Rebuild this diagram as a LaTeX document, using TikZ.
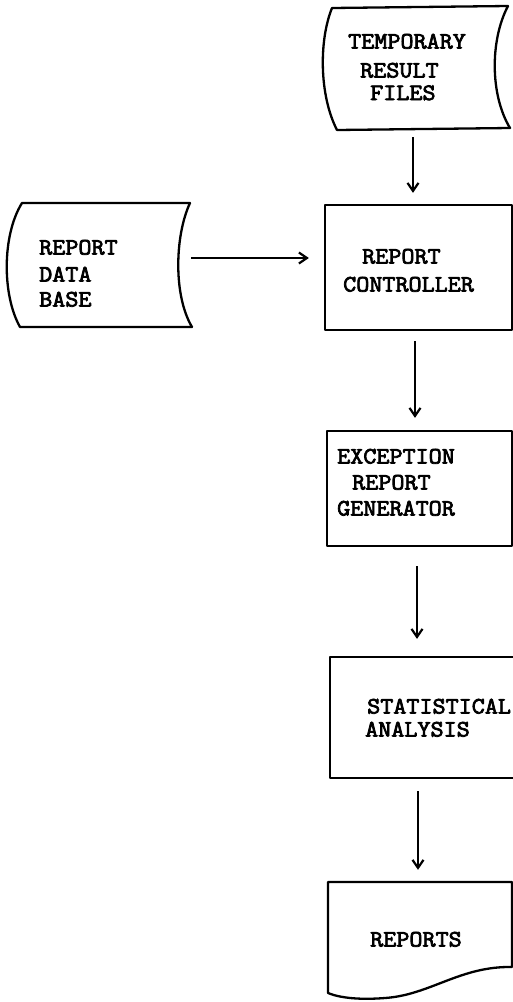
\documentclass[tikz,border=0pt]{standalone}
\usepackage{fontspec}
\usetikzlibrary{arrows.meta}
\newfontfamily\twfont{Latin Modern Mono}[FakeBold=3.2, FakeStretch=1.08]
\begin{document}
\begin{tikzpicture}[x=1pt,y=-1pt,
  outline/.style={line width=2.3pt, line join=round},
  frame/.style={outline, draw, rectangle, inner sep=0pt},
  hold/.style={rectangle, inner sep=0pt},
  flow/.style={line width=2pt, -{Straight Barb[length=8pt,width=11pt,line width=2.2pt]}},
  lbl/.style={anchor=base west, inner sep=0pt, font=\twfont\fontsize{23.5}{26}\selectfont}]
\useasboundingbox[fill=white] (0,0) rectangle (513,1002);

% temporary result files (stored data symbol)
\node[hold, minimum width=176pt, minimum height=122pt] (tmp) at (420,68) {};
\draw[outline] (332,8) -- (508,6)
  .. controls (490,40) and (490,95) .. (510,128)
  -- (337,130)
  .. controls (319,95) and (319,40) .. (332,8) -- cycle;
\node[lbl] (tmp1) at (348,48.5) {TEMPORARY};
\node[lbl] (tmp2) at (360,77.5) {RESULT};
\node[lbl] (tmp3) at (370,100) {FILES};

% report data base (stored data symbol)
\node[hold, minimum width=172pt, minimum height=124pt] (db) at (106,265) {};
\draw[outline] (22,203) -- (190,203)
  .. controls (175,235) and (173,295) .. (192,327)
  -- (20,327)
  .. controls (2,295) and (2,235) .. (22,203) -- cycle;
\node[lbl] (db1) at (39,254.5) {REPORT};
\node[lbl] (db2) at (39,281.5) {DATA};
\node[lbl] (db3) at (39,306.5) {BASE};

% report controller
\node[frame, minimum width=187pt, minimum height=125pt] (ctrl) at (418.5,267.5) {};
\node[lbl] (ctrl1) at (362,263.5) {REPORT};
\node[lbl] (ctrl2) at (343,291.5) {CONTROLLER};

% exception report generator
\node[frame, minimum width=185pt, minimum height=115pt] (exc) at (419.5,488.5) {};
\node[lbl] (exc1) at (337,463.5) {EXCEPTION};
\node[lbl] (exc2) at (352,489.5) {REPORT};
\node[lbl] (exc3) at (337,515.5) {GENERATOR};

% statistical analysis (right edge runs off the page)
\node[frame, minimum width=187pt, minimum height=121pt] (stat) at (423.5,717.5) {};
\node[lbl] (stat1) at (367,713.5) {STATISTICAL};
\node[lbl] (stat2) at (365,736.5) {ANALYSIS};

% reports (document symbol)
\node[hold, minimum width=184pt, minimum height=106pt] (rep) at (420,935) {};
\draw[outline] (328,882) -- (512,882) -- (512,967)
  .. controls (460,966) and (430,995) .. (385,998)
  .. controls (360,1000) and (340,998) .. (328,993) -- cycle;
\node[lbl] (rep1) at (370,946.5) {REPORTS};

% flow lines
\draw[flow, shorten <=8pt, shorten >=11pt]
  ([xshift=-7pt]tmp.south) -- ([xshift=-7pt]tmp.south |- ctrl.north);
\draw[flow, shorten <=-1pt, shorten >=15pt]
  ([yshift=7pt]db.east) -- ([yshift=7pt]db.east -| ctrl.west);
\draw[flow, shorten <=10pt, shorten >=12pt]
  ([xshift=-3.5pt]ctrl.south) -- ([xshift=-3.5pt]ctrl.south |- exc.north);
\draw[flow, shorten <=19pt, shorten >=17pt]
  ([xshift=-2.5pt]exc.south) -- ([xshift=-2.5pt]exc.south |- stat.north);
\draw[flow, shorten <=12pt, shorten >=12pt]
  ([xshift=-5.5pt]stat.south) -- ([xshift=-5.5pt]stat.south |- rep.north);
\end{tikzpicture}
\end{document}
